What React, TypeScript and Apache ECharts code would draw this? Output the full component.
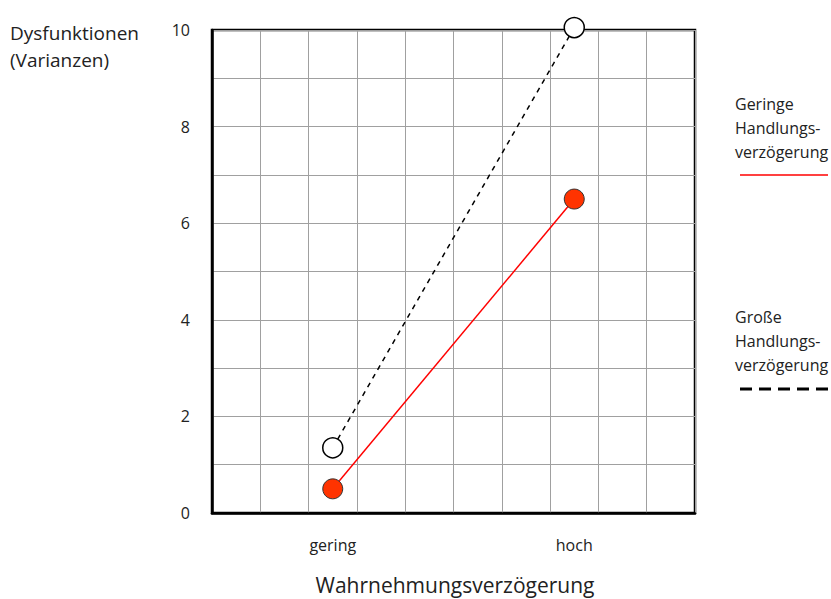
import React, { useEffect, useRef } from "react";
import * as echarts from "echarts";

const xPositions = [2.5, 7.5];
const xTickLabels: Record<string, string> = { "2.5": "gering", "7.5": "hoch" };
const geringeValues = [0.5, 6.5];
const grosseValues = [1.35, 10.05];
const yTickLabels = [0, 2, 4, 6, 8, 10];

const FONT = "'Open Sans', 'Noto Sans', sans-serif";

export default function App() {
  const ref = useRef<HTMLDivElement>(null);
  useEffect(() => {
    const chart = echarts.init(ref.current!, null, { renderer: "svg" });
    const gridLeft = 212, gridTop = 30, gridW = 483, gridH = 483;
    chart.setOption({
      animation: false,
      backgroundColor: "#ffffff",
      textStyle: { fontFamily: FONT },
      grid: {
        left: gridLeft, top: gridTop, width: gridW, height: gridH,
        show: true, borderColor: "#000", borderWidth: 2.5,
        containLabel: false, outerBoundsMode: "none",
      },
      xAxis: [
        {
          type: "value", min: 0, max: 10, interval: 1,
          axisLine: { show: true, lineStyle: { color: "#000", width: 2.5 } },
          axisTick: { show: false },
          axisLabel: { show: false },
          splitLine: { show: true, lineStyle: { color: "#a0a0a0", width: 1 } },
        },
        {
          type: "value", min: 0, max: 10, interval: 2.5, position: "bottom",
          axisLine: { show: false }, axisTick: { show: false },
          splitLine: { show: false },
          axisLabel: {
            show: true, margin: 24, fontSize: 16, color: "#222", fontFamily: FONT,
            formatter: (v: number) => xTickLabels[String(v)] || "",
          },
        },
      ],
      yAxis: {
        type: "value", min: 0, max: 10, interval: 1,
        axisLine: { show: true, lineStyle: { color: "#000", width: 2.5 } },
        axisTick: { show: false },
        axisLabel: {
          margin: 22, fontSize: 16, color: "#222", fontFamily: FONT,
          formatter: (v: number) => (yTickLabels.includes(v) ? String(v) : ""),
        },
        splitLine: { show: true, lineStyle: { color: "#a0a0a0", width: 1 } },
      },
      series: [
        {
          type: "line", xAxisIndex: 0, clip: false,
          data: xPositions.map((x, i) => [x, grosseValues[i]]),
          lineStyle: { color: "#000", width: 1.5, type: [5, 5] },
          symbol: "circle", symbolSize: 20,
          itemStyle: { color: "#fff", borderColor: "#000", borderWidth: 1.5 },
          z: 3,
        },
        {
          type: "line", xAxisIndex: 0, clip: false,
          data: xPositions.map((x, i) => [x, geringeValues[i]]),
          lineStyle: { color: "#ff0000", width: 1.5 },
          symbol: "circle", symbolSize: 20,
          itemStyle: { color: "#ff3300", borderColor: "#333", borderWidth: 1 },
          z: 4,
        },
      ],
      graphic: [
        {
          type: "text", left: 10, top: 19,
          style: { text: "Dysfunktionen\n(Varianzen)", fontSize: 19, lineHeight: 27, fill: "#222", fontFamily: FONT },
        },
        {
          type: "text", x: 455, y: 585,
          style: {
            text: "Wahrnehmungsverzögerung", fontSize: 21, lineHeight: 22, fill: "#222", fontFamily: FONT,
            align: "center", verticalAlign: "middle",
          },
        },
        {
          type: "text", left: 735, top: 92,
          style: { text: "Geringe\nHandlungs-\nverzögerung", fontSize: 16, lineHeight: 24, fill: "#222", fontFamily: FONT },
        },
        {
          type: "line", shape: { x1: 740, y1: 175, x2: 828, y2: 175 },
          style: { stroke: "#ff0000", lineWidth: 1.5 },
        },
        {
          type: "text", left: 735, top: 305,
          style: { text: "Große\nHandlungs-\nverzögerung", fontSize: 16, lineHeight: 24, fill: "#222", fontFamily: FONT },
        },
        {
          type: "line", shape: { x1: 740, y1: 389, x2: 828, y2: 389 },
          style: { stroke: "#000", lineWidth: 3, lineDash: [12, 7] },
        },
      ],
    });
    return () => chart.dispose();
  }, []);
  return <div ref={ref} style={{ position: "absolute", left: 0, top: 0, width: 831, height: 599 }} />;
}
